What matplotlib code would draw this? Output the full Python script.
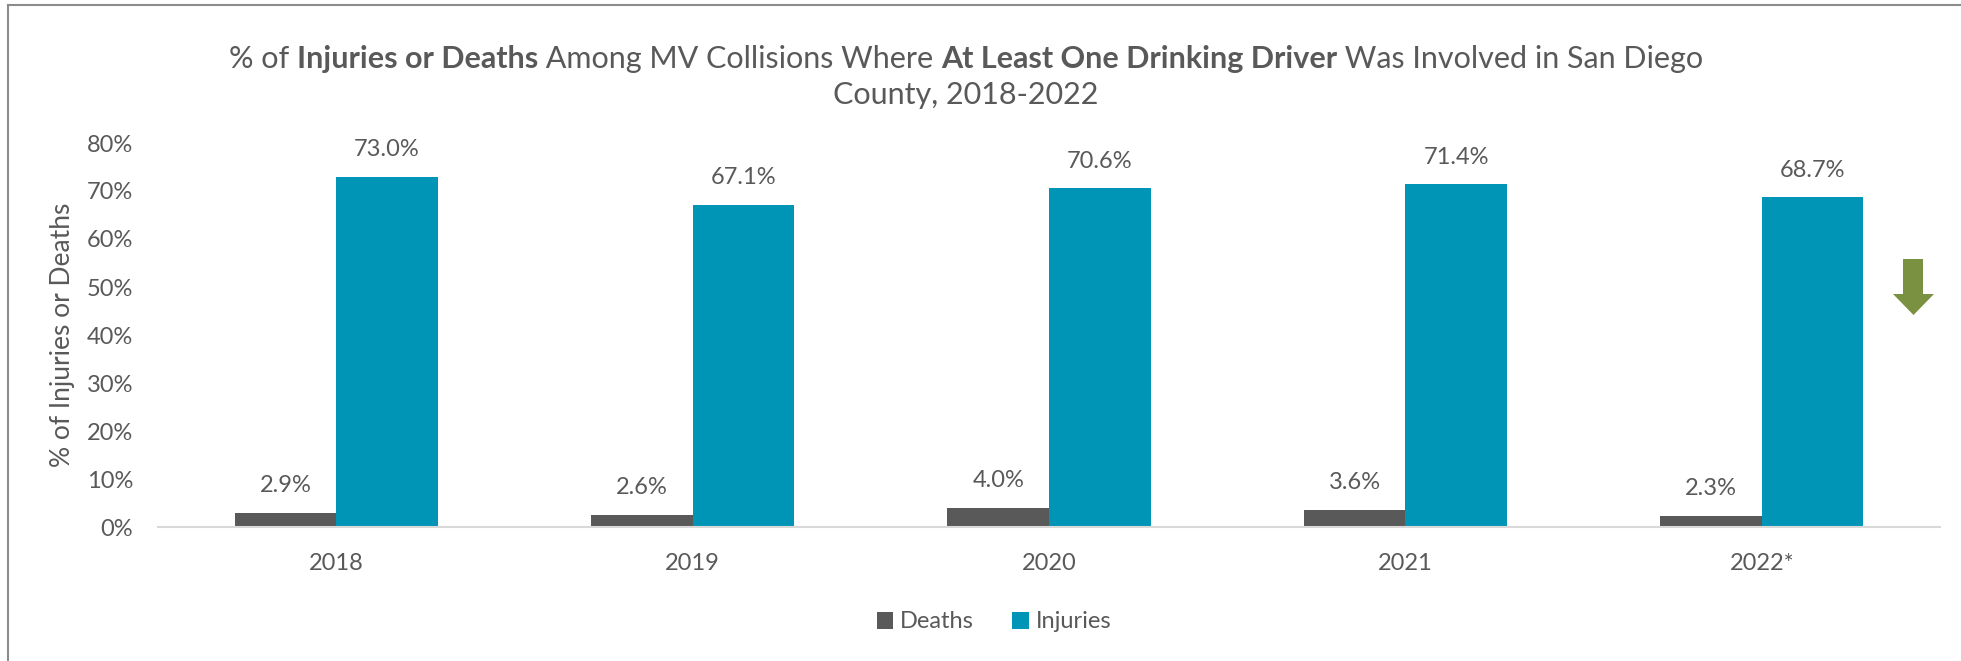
import numpy as np
import matplotlib.pyplot as plt
from matplotlib.patches import Polygon
from matplotlib.lines import Line2D

years = ['2018', '2019', '2020', '2021', '2022*']
deaths = [2.9, 2.6, 4.0, 3.6, 2.3]
injuries = [73.0, 67.1, 70.6, 71.4, 68.7]
yticks = [0, 10, 20, 30, 40, 50, 60, 70, 80]

title1 = [('% of ', 'normal'), ('Injuries or Deaths', 'bold'),
          (' Among MV Collisions Where ', 'normal'),
          ('At Least One Drinking Driver', 'bold'),
          (' Was Involved in San Diego', 'normal')]
title2 = [('County, 2018-2022', 'normal')]

plt.rcParams['font.family'] = ['Lato', 'DejaVu Sans']
txt = '#595959'
W, H = 1961, 661

fig = plt.figure(figsize=(W / 100, H / 100), dpi=100)
ax = fig.add_axes([158 / W, 1 - 527 / H, (1940 - 158) / W, (527 - 143) / H])

x = np.arange(len(years))
w = 0.285
b1 = ax.bar(x - w / 2, deaths, w, color='#595959', label='Deaths')
b2 = ax.bar(x + w / 2, injuries, w, color='#0095B6', label='Injuries')
for bars, vals in ((b1, deaths), (b2, injuries)):
    for r, v in zip(bars, vals):
        ax.annotate(f'{v:.1f}%', (r.get_x() + r.get_width() / 2, v),
                    xytext=(0, 19.5), textcoords='offset points',
                    ha='center', va='center', fontsize=17, color=txt)

ax.set_xlim(-0.5, 4.5)
ax.set_ylim(0, 80)
ax.set_yticks(yticks)
ax.set_yticklabels([f'{t}%' for t in yticks])
ax.set_xticks(x)
ax.set_xticklabels(years)
ax.tick_params(length=0, labelsize=17, labelcolor=txt)
ax.tick_params(axis='y', pad=18)
ax.tick_params(axis='x', pad=19)
for s in ['top', 'right', 'left']:
    ax.spines[s].set_visible(False)
ax.spines['bottom'].set_color('#D9D9D9')
ax.spines['bottom'].set_linewidth(1.5)
ax.set_ylabel('% of Injuries or Deaths', fontsize=19, color=txt, labelpad=8)

fig.legend(handles=[b1, b2], loc='center', bbox_to_anchor=(994 / W, 1 - 622 / H),
           ncol=2, frameon=False, fontsize=17, handlelength=0.7, handleheight=0.7,
           handletextpad=0.3, columnspacing=1.6, labelcolor=txt)

# green down arrow on the right
def px(xp, yp):
    return (xp / W, 1 - yp / H)
arrow = [px(1903, 259), px(1923, 259), px(1923, 294), px(1934, 294),
         px(1913.5, 315), px(1893, 294), px(1903, 294)]
fig.add_artist(Polygon(arrow, closed=True, transform=fig.transFigure,
                       facecolor='#7A9142', edgecolor='none'))

# chart border
fig.add_artist(Line2D([8 / W, 1], [1 - 5 / H, 1 - 5 / H], transform=fig.transFigure,
                      color='#8C8C8C', lw=1.5))
fig.add_artist(Line2D([8 / W, 8 / W], [0, 1 - 5 / H], transform=fig.transFigure,
                      color='#8C8C8C', lw=1.5))

# title with mixed bold pieces
def draw_line(pieces, ycen, cx, size):
    r = fig.canvas.get_renderer()
    ts = []
    for s, wt in pieces:
        t = fig.text(0, ycen, s, fontsize=size, fontweight=wt, color=txt,
                     va='center', ha='left')
        ts.append(t)
    widths = []
    for t in ts:
        widths.append(t.get_window_extent(r).width)
    total = sum(widths)
    start = cx - total / 2
    for t, wd in zip(ts, widths):
        t.set_x(start / W)
        start += wd

draw_line(title1, 1 - 59 / H, 966, 22)
draw_line(title2, 1 - 95 / H, 966, 22)

fig.savefig('out.png', dpi=100)
